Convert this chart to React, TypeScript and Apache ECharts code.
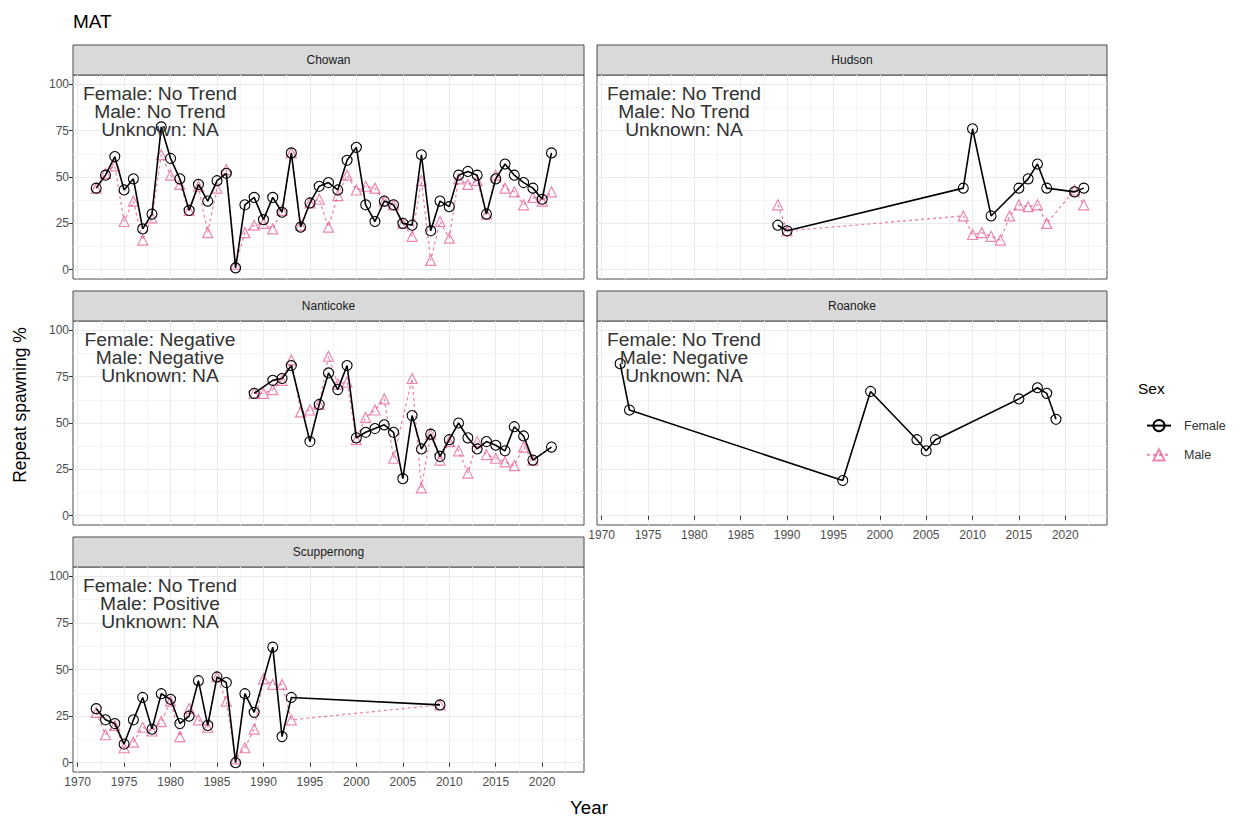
import React, { useEffect, useRef } from 'react';
import * as echarts from 'echarts';

// ---------- data ----------
const panelNames = ['Chowan', 'Hudson', 'Nanticoke', 'Roanoke', 'Scuppernong'];
const femaleTrend = ['No Trend', 'No Trend', 'Negative', 'No Trend', 'No Trend'];
const maleTrend = ['No Trend', 'No Trend', 'Negative', 'Negative', 'Positive'];
const unknownTrend = ['NA', 'NA', 'NA', 'NA', 'NA'];

const xTicks = [1970, 1975, 1980, 1985, 1990, 1995, 2000, 2005, 2010, 2015, 2020];
const yTicks = [0, 25, 50, 75, 100];
const xMinorTicks = [1972.5, 1977.5, 1982.5, 1987.5, 1992.5, 1997.5, 2002.5, 2007.5, 2012.5, 2017.5, 2022.5];
const yMinorTicks = [12.5, 37.5, 62.5, 87.5];

const chowanYears = [1972, 1973, 1974, 1975, 1976, 1977, 1978, 1979, 1980, 1981,
  1982, 1983, 1984, 1985, 1986, 1987, 1988, 1989, 1990, 1991,
  1992, 1993, 1994, 1995, 1996, 1997, 1998, 1999, 2000, 2001,
  2002, 2003, 2004, 2005, 2006, 2007, 2008, 2009, 2010, 2011,
  2012, 2013, 2014, 2015, 2016, 2017, 2018, 2019, 2020, 2021];
const chowanFemale = [44, 51, 61, 43, 49, 22, 30, 77, 60, 49,
  32, 46, 37, 48, 52, 1, 35, 39, 27, 39,
  31, 63, 23, 36, 45, 47, 43, 59, 66, 35,
  26, 37, 35, 25, 24, 62, 21, 37, 34, 51,
  53, 51, 30, 49, 57, 51, 47, 44, 38, 63];
const chowanMale = [44, 52, 56, 26, 37, 16, 28, 62, 51, 46,
  32, 45, 20, 44, 54, 3, 20, 24, 25, 22,
  32, 63, 24, 36, 38, 23, 40, 51, 43, 45,
  44, 37, 35, 25, 18, 48, 5, 26, 17, 49,
  46, 48, 30, 51, 44, 42, 35, 39, 37, 42];

const hudsonFemaleYears = [1989, 1990, 2009, 2010, 2012, 2015, 2016, 2017, 2018, 2021, 2022];
const hudsonFemale = [24, 21, 44, 76, 29, 44, 49, 57, 44, 42, 44];
const hudsonMaleYears = [1989, 1990, 2009, 2010, 2011, 2012, 2013, 2014, 2015, 2016, 2017, 2018, 2021, 2022];
const hudsonMale = [35, 21, 29, 19, 20, 18, 16, 29, 35, 34, 35, 25, 43, 35];

const nanticokeFemaleYears = [1989, 1991, 1992, 1993, 1995, 1996, 1997, 1998, 1999, 2000,
  2001, 2002, 2003, 2004, 2005, 2006, 2007, 2008, 2009, 2010,
  2011, 2012, 2013, 2014, 2015, 2016, 2017, 2018, 2019, 2021];
const nanticokeFemale = [66, 73, 74, 81, 40, 60, 77, 68, 81, 42,
  45, 47, 49, 45, 20, 54, 36, 44, 32, 41,
  50, 42, 36, 40, 38, 35, 48, 43, 30, 37];
const nanticokeMaleYears = [1989, 1990, 1991, 1992, 1993, 1994, 1995, 1996, 1997, 1998,
  1999, 2000, 2001, 2002, 2003, 2004, 2006, 2007, 2008, 2009,
  2010, 2011, 2012, 2013, 2014, 2015, 2016, 2017, 2018, 2019];
const nanticokeMale = [66, 66, 68, 73, 84, 56, 57, 60, 86, 71,
  72, 41, 53, 57, 63, 31, 74, 15, 44, 30,
  40, 35, 23, 40, 33, 31, 29, 27, 37, 30];

const roanokeFemaleYears = [1972, 1973, 1996, 1999, 2004, 2005, 2006, 2015, 2017, 2018, 2019];
const roanokeFemale = [82, 57, 19, 67, 41, 35, 41, 63, 69, 66, 52];

const scuppernongFemaleYears = [1972, 1973, 1974, 1975, 1976, 1977, 1978, 1979, 1980, 1981,
  1982, 1983, 1984, 1985, 1986, 1987, 1988, 1989, 1991, 1992, 1993, 2009];
const scuppernongFemale = [29, 23, 21, 10, 23, 35, 18, 37, 34, 21,
  25, 44, 20, 46, 43, 0, 37, 27, 62, 14, 35, 31];
const scuppernongMaleYears = [1972, 1973, 1974, 1975, 1976, 1977, 1978, 1979, 1980, 1981,
  1982, 1983, 1984, 1985, 1986, 1987, 1988, 1989, 1990, 1991, 1992, 1993, 2009];
const scuppernongMale = [27, 15, 20, 8, 11, 19, 17, 22, 33, 14,
  29, 23, 19, 46, 33, 2, 8, 18, 45, 42, 42, 23, 31];

const femaleData = [
  [chowanYears, chowanFemale],
  [hudsonFemaleYears, hudsonFemale],
  [nanticokeFemaleYears, nanticokeFemale],
  [roanokeFemaleYears, roanokeFemale],
  [scuppernongFemaleYears, scuppernongFemale],
];
const maleData = [
  [chowanYears, chowanMale],
  [hudsonMaleYears, hudsonMale],
  [nanticokeMaleYears, nanticokeMale],
  null,
  [scuppernongMaleYears, scuppernongMale],
];

// ---------- layout / style ----------
const FONT = '"Liberation Sans", Arial, Helvetica, sans-serif';
const MALE_COLOR = 'rgba(225, 55, 125, 0.6)';
const FEMALE_COLOR = '#000000';
const layouts = [
  { left: 73, top: 75, w: 511, h: 204 },
  { left: 597, top: 75, w: 510, h: 204 },
  { left: 73, top: 321, w: 511, h: 204 },
  { left: 597, top: 321, w: 510, h: 204 },
  { left: 73, top: 567, w: 511, h: 205 },
];

function pairs(years: number[], vals: number[]) {
  return years.map((y, i) => [y, vals[i]]);
}

function txt(x: number, y: number, text: string, size: number, color: string, align = 'left', extra: any = {}) {
  return {
    type: 'text',
    x,
    y,
    silent: true,
    ...extra,
    style: {
      text,
      fill: color,
      fontSize: size,
      fontFamily: FONT,
      align,
      textAlign: align,
      verticalAlign: 'middle',
      textVerticalAlign: 'middle',
    },
  };
}

export default function App() {
  const ref = useRef<HTMLDivElement>(null);
  useEffect(() => {
    if (!ref.current) return;
    const chart = echarts.init(ref.current, null, { renderer: 'svg' });
    const grid: any[] = [];
    const xAxis: any[] = [];
    const yAxis: any[] = [];
    const minorX: any[] = [];
    const minorY: any[] = [];
    const series: any[] = [];
    const graphic: any[] = [];

    layouts.forEach((L, i) => {
      const showX = i === 3 || i === 4;
      const showY = i % 2 === 0;
      grid.push({
        left: L.left, top: L.top, width: L.w, height: L.h,
        show: true, borderColor: '#4d4d4d', borderWidth: 1, backgroundColor: '#ffffff',
      });
      xAxis.push({
        type: 'value', gridIndex: i, min: 1969.5, max: 2024.5, position: 'bottom',
        axisLine: { show: false },
        axisTick: { show: showX, length: 4, lineStyle: { color: '#333333' }, customValues: xTicks },
        axisLabel: {
          show: showX, customValues: xTicks, color: '#4d4d4d', fontSize: 12, fontFamily: FONT, margin: 4,
          formatter: (v: number) => String(Math.round(v)),
        },
        splitLine: { show: true, lineStyle: { color: '#EBEBEB', width: 1 } },
        z: 1,
      });
      yAxis.push({
        type: 'value', gridIndex: i, min: -5, max: 105, position: 'left',
        axisLine: { show: false },
        axisTick: { show: showY, length: 4, lineStyle: { color: '#333333' }, customValues: yTicks },
        axisLabel: {
          show: showY, customValues: yTicks, color: '#4d4d4d', fontSize: 12, fontFamily: FONT, margin: 4,
          formatter: (v: number) => String(Math.round(v)),
        },
        splitLine: { show: true, lineStyle: { color: '#EBEBEB', width: 1 } },
        z: 1,
      });
      minorX.push({
        type: 'value', gridIndex: i, min: 1969.5, max: 2024.5, position: 'top',
        axisLine: { show: false },
        axisTick: { show: false, customValues: xMinorTicks },
        axisLabel: { show: false, customValues: xMinorTicks },
        splitLine: { show: true, lineStyle: { color: '#F4F4F4', width: 1 } },
        z: 0,
      });
      minorY.push({
        type: 'value', gridIndex: i, min: -5, max: 105, position: 'right',
        axisLine: { show: false },
        axisTick: { show: false, customValues: yMinorTicks },
        axisLabel: { show: false, customValues: yMinorTicks },
        splitLine: { show: true, lineStyle: { color: '#F4F4F4', width: 1 } },
        z: 0,
      });
      const m = maleData[i];
      if (m) {
        series.push({
          type: 'line', name: 'Male', xAxisIndex: i, yAxisIndex: i,
          data: pairs(m[0], m[1]),
          symbol: 'triangle', symbolSize: 10,
          lineStyle: { color: MALE_COLOR, width: 1.3, type: [3, 3] },
          itemStyle: { color: 'rgba(255,255,255,0)', borderColor: MALE_COLOR, borderWidth: 1.2 },
          z: 2,
        });
      }
      const f = femaleData[i];
      series.push({
        type: 'line', name: 'Female', xAxisIndex: i, yAxisIndex: i,
        data: pairs(f[0], f[1]),
        symbol: 'circle', symbolSize: 10,
        lineStyle: { color: FEMALE_COLOR, width: 1.6 },
        itemStyle: { color: 'rgba(255,255,255,0)', borderColor: FEMALE_COLOR, borderWidth: 1.1 },
        z: 3,
      });

      // strip
      graphic.push({
        type: 'rect', silent: true,
        shape: { x: L.left, y: L.top - 30, width: L.w, height: 30 },
        style: { fill: '#D9D9D9', stroke: '#4d4d4d', lineWidth: 1 },
      });
      graphic.push(txt(L.left + L.w / 2, L.top - 15, panelNames[i], 12, '#1a1a1a', 'center'));
      // annotation
      const cx = L.left + 87;
      const lines = ['Female: ' + femaleTrend[i], 'Male: ' + maleTrend[i], 'Unknown: ' + unknownTrend[i]];
      lines.forEach((t, k) => {
        graphic.push(txt(cx, L.top + 18.5 + k * 18.3, t, 18, '#333333', 'center', { scaleX: 1.07, originX: 0, originY: 0, z: 10 }));
      });
    });

    graphic.push(txt(73, 21, 'MAT', 19, '#000000', 'left'));
    graphic.push(txt(20, 405, 'Repeat spawning %', 17.5, '#000000', 'center', { rotation: Math.PI / 2 }));
    graphic.push(txt(589, 808, 'Year', 17.5, '#000000', 'center', { scaleX: 1.07, originX: 0, originY: 0 }));
    graphic.push(txt(1138, 388, 'Sex', 15.5, '#000000', 'left'));

    chart.setOption({
      animation: false,
      backgroundColor: '#ffffff',
      grid,
      xAxis: [...xAxis, ...minorX],
      yAxis: [...yAxis, ...minorY],
      series,
      graphic,
      legend: {
        data: ['Female', 'Male'],
        orient: 'vertical',
        left: 1141, top: 414,
        itemWidth: 24, itemHeight: 14, itemGap: 16,
        selectedMode: false,
        textStyle: { fontFamily: FONT, fontSize: 12.5, color: '#333333', padding: [0, 0, 0, 8] },
      },
    });
    return () => chart.dispose();
  }, []);
  return <div ref={ref} style={{ position: 'fixed', left: 0, top: 0, width: 1246, height: 822 }} />;
}
